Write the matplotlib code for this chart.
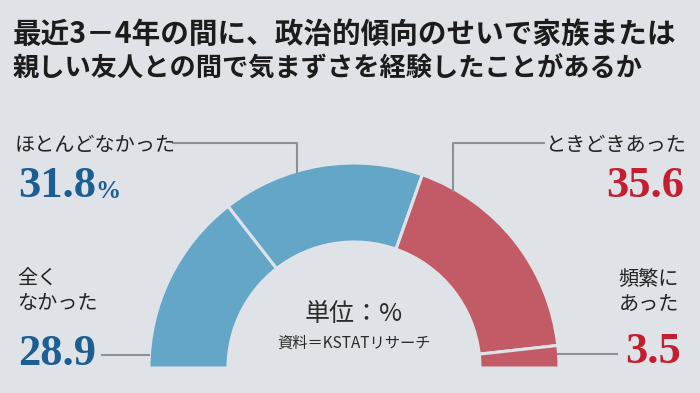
import matplotlib
matplotlib.use("Agg")
import matplotlib.pyplot as plt

plt.rcParams['font.family'] = ['Noto Sans CJK JP', 'DejaVu Sans']

# ---- data ----
categories = ["全く\nなかった", "ほとんどなかった", "ときどきあった", "頻繁に\nあった"]
values = [28.9, 31.8, 35.6, 3.5]
value_labels = ["28.9", "31.8", "35.6", "3.5"]
colors = ["#64a6c7", "#64a6c7", "#c35b67", "#c35b67"]
title_lines = ["最近3－4年の間に、政治的傾向のせいで家族または",
               "親しい友人との間で気まずさを経験したことがあるか"]
unit_text = "単位：%"
source_text = "資料＝KSTATリサーチ"

BG = "#dfe3e8"
W, H = 700, 393
fig = plt.figure(figsize=(W / 100, H / 100), dpi=100, facecolor=BG)
ax = fig.add_axes([0, 0, 1, 1])
ax.set_facecolor(BG)

def Y(y):
    return H - y

cx, cy, R, ring = 354, 368, 205, 79
total = sum(values)
wedges, _ = ax.pie(values + [total], colors=colors + ["none"], startangle=180,
                   counterclock=False, radius=R, center=(cx, Y(cy)),
                   wedgeprops=dict(width=ring, edgecolor=BG, linewidth=2.2),
                   frame=True)
wedges[-1].set_visible(False)
ax.set_xlim(0, W)
ax.set_ylim(0, H)
ax.set_aspect('equal')
ax.axis('off')

# title
ax.text(13, Y(34), title_lines[0], fontsize=20.6, fontweight='bold',
        color='#1c1c1c', ha='left', va='center')
ax.text(13, Y(68), title_lines[1], fontsize=18.9, fontweight='bold',
        color='#1c1c1c', ha='left', va='center')

blue_t = "#1b5f92"
red_t = "#c41f30"
lab_kw = dict(fontsize=14.5, color='#222222')
num_kw = dict(family=['Liberation Serif'], fontweight='bold', fontsize=32)
line_kw = dict(color='#8c9196', lw=1.5, solid_capstyle='butt')

# ほとんどなかった
ax.text(15, Y(145), categories[1], ha='left', va='center', **lab_kw)
ax.text(18, Y(186), value_labels[1], ha='left', va='center', color=blue_t, **num_kw)
ax.text(95, Y(191), "%", ha='left', va='center', color=blue_t,
        family=['Liberation Serif'], fontweight='bold', fontsize=18)
ax.plot([172, 297, 297], [Y(143), Y(143), Y(174)], **line_kw)

# 全くなかった
ax.text(17, Y(291), categories[0], ha='left', va='center', linespacing=1.2, **lab_kw)
ax.text(18, Y(354), value_labels[0], ha='left', va='center', color=blue_t, **num_kw)
ax.plot([101, 150], [Y(355), Y(355)], **line_kw)

# ときどきあった
ax.text(687, Y(145), categories[2], ha='right', va='center', **lab_kw)
ax.text(684, Y(186), value_labels[2], ha='right', va='center', color=red_t, **num_kw)
ax.plot([545, 453, 453], [Y(143), Y(143), Y(192)], **line_kw)

# 頻繁にあった
ax.text(679, Y(292), categories[3], ha='right', va='center', multialignment='right',
        linespacing=1.2, **lab_kw)
ax.text(681, Y(352), value_labels[3], ha='right', va='center', color=red_t, **num_kw)
ax.plot([557, 618], [Y(354), Y(354)], **line_kw)

# center text
ax.text(354, Y(314), unit_text, ha='center', va='center', fontsize=18, color='#2a2a2a')
ax.text(354, Y(343), source_text, ha='center', va='center', fontsize=11, color='#2a2a2a')

fig.savefig("out.png", dpi=100, facecolor=BG)
